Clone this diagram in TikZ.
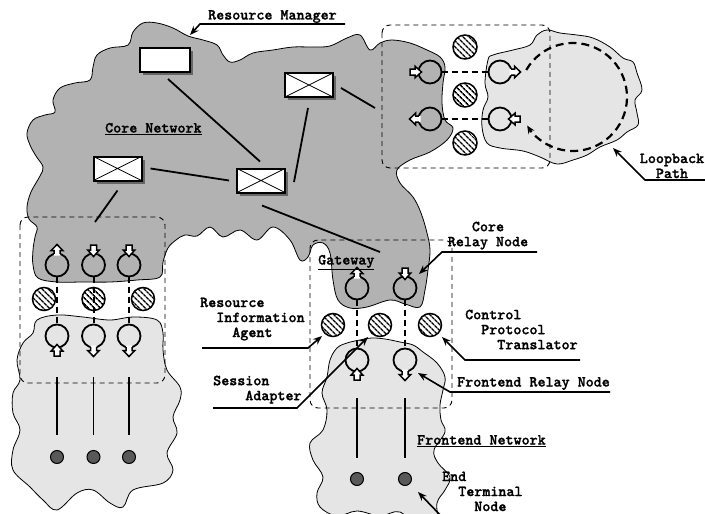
\documentclass[tikz,border=0pt]{standalone}
\usepackage{fontspec}
\usetikzlibrary{arrows.meta,patterns.meta,shadows,calc}
\newfontfamily\lblfont{lmmonolt10-bold.otf}[FakeBold=1.3]

% relay node whose arrow points away from the circle
\newcommand\relayout[3]{%
  \coordinate (#1) at #2;
  \begin{scope}[shift={(#1)}, rotate=#3]
    \draw[line width=1.8pt] (0,0) circle[radius=11.5];
    \fill[white] (9.5,3) -- (14.5,3) -- (14.5,5.8) -- (20.5,0) -- (14.5,-5.8) -- (14.5,-3) -- (9.5,-3) -- cycle;
    \draw[line width=1.5pt, line join=miter] (11.1,3) -- (14.5,3) -- (14.5,5.8) -- (20.5,0) -- (14.5,-5.8) -- (14.5,-3) -- (11.1,-3);
  \end{scope}}
% relay node whose arrow points into the circle
\newcommand\relayin[3]{%
  \coordinate (#1) at #2;
  \begin{scope}[shift={(#1)}, rotate=#3]
    \draw[line width=1.8pt] (0,0) circle[radius=11.5];
    \draw[line width=1.5pt, fill=white, line join=miter] (8.5,0) -- (15,5.8) -- (15,3) -- (20,3) -- (20,-3) -- (15,-3) -- (15,-5.8) -- cycle;
  \end{scope}}

\begin{document}
\begin{tikzpicture}[x=1pt,y=-1pt,
  cloudline/.style={line width=0.8pt},
  corefill/.style={fill=black!30},
  edgefill/.style={fill=black!10},
  conn/.style={line width=1.8pt},
  grpbox/.style={line width=0.9pt, dash pattern=on 5pt off 4pt, rounded corners=8pt},
  link/.style={line width=2pt, dash pattern=on 6pt off 4pt},
  loopdash/.style={line width=2.2pt, dash pattern=on 8pt off 5pt},
  leader/.style={line width=1.6pt, -{Stealth[length=9pt,width=7pt]}},
  hatched/.style={circle, draw, line width=1.5pt, minimum size=24pt, inner sep=0pt,
    preaction={fill=white}, pattern={Lines[angle=-45,distance=4pt,line width=1.6pt]}},
  terminal/.style={circle, draw, line width=1pt, minimum size=13pt, inner sep=0pt, fill=black!65},
  rmbox/.style={draw, line width=2pt, fill=white, minimum width=48pt, minimum height=24pt, inner sep=0pt,
    drop shadow={shadow xshift=3pt, shadow yshift=-3pt, fill=black!60, opacity=1}},
  xbox/.style={rmbox, path picture={\draw[line width=0.8pt]
    (path picture bounding box.north west) -- (path picture bounding box.south east)
    (path picture bounding box.north east) -- (path picture bounding box.south west);}},
  lbl/.style={font=\lblfont\fontsize{15.3}{15}\selectfont, inner sep=0pt},
]
\useasboundingbox (0,0) rectangle (705,514);
\clip (0,0) rectangle (705,514);

% ---------- core network cloud ----------
\draw[cloudline, corefill] plot[smooth cycle, tension=0.6] coordinates {
 (143,23) (157,23) (173,28) (188,36) (203,40) (217,45) (223,55) (230,62) (240,60) (253,53)
 (273,50) (293,47) (313,47) (330,46) (347,38) (360,35) (370,50) (380,43) (392,40) (410,43)
 (427,50) (440,57) (445,67) (443,83) (442,103) (445,120) (453,128) (447,140) (430,152)
 (410,160) (397,170) (400,183) (413,197) (421,213) (427,233) (430,250) (428,270) (425,290)
 (420,307) (405,304) (390,300) (367,307) (350,308) (338,300) (333,280) (330,253) (323,243)
 (313,245) (308,257) (300,260) (290,240) (273,227) (257,240) (240,230) (223,237) (210,227)
 (197,236) (185,235) (176,240) (168,248) (163,262) (160,277) (137,280) (110,282) (83,282)
 (57,282) (38,278) (33,265) (33,250) (35,237) (37,227) (29,219) (27,207) (31,192) (40,176)
 (43,167) (36,156) (30,145) (27,133) (33,120) (45,115) (55,112) (53,100) (60,88) (75,83)
 (90,80) (93,67) (97,55) (110,48) (128,45) (133,32)};

% ---------- loopback cloud ----------
\draw[cloudline, edgefill] plot[smooth cycle, tension=0.6] coordinates {
 (547,30) (560,33) (577,35) (593,38) (610,47) (623,58) (633,62) (637,73) (642,90) (635,100)
 (637,113) (638,125) (627,132) (617,140) (600,147) (587,155) (573,160) (557,164) (540,157)
 (523,151) (500,148) (487,143) (482,127) (483,110) (488,97) (485,83) (488,60) (493,55)
 (513,50) (530,45) (537,35)};

% ---------- left frontend cloud ----------
\draw[cloudline, edgefill] plot[smooth cycle, tension=0.6] coordinates {
 (37,320) (57,315) (83,317) (110,320) (133,317) (157,320) (163,333) (163,350) (167,370)
 (180,387) (180,400) (173,417) (177,433) (167,453) (173,470) (163,483) (133,490) (123,507)
 (110,503) (93,490) (77,493) (57,510) (43,500) (30,487) (13,470) (13,450) (20,430) (13,413)
 (13,393) (20,380) (17,360) (23,343) (33,333)};

% ---------- gateway frontend cloud ----------
\draw[cloudline, edgefill] plot[smooth cycle, tension=0.6] coordinates {
 (347,343) (360,340) (372,338) (385,339) (400,342) (413,345) (423,352) (437,363) (445,377)
 (443,390) (440,405) (441,420) (445,432) (434,450) (438,463) (450,477) (445,490) (437,503)
 (437,525) (420,530) (400,512) (380,516) (357,511) (337,516) (320,507) (317,493) (323,477)
 (313,460) (310,443) (323,430) (327,410) (322,393) (327,377) (330,360) (337,348)};

% ---------- dashed groups ----------
\draw[grpbox] (382,25) rectangle (550,168);
\draw[grpbox] (20,217) rectangle (165,383);
\draw[grpbox] (310,240) rectangle (452,408);

% ---------- resource manager boxes ----------
\node[rmbox] (b1) at (165,60) [minimum width=50pt] {};
\node[xbox] (b2) at (309,85) {};
\node[xbox] (b3) at (117.5,168.5) {};
\node[xbox] (b4) at (261,180.5) {};

\coordinate (toloop) at (375,108);
\coordinate (toleft) at (95,222);
\coordinate (togate) at (380,252);
\draw[conn] ($(b1.south)+(3,6)$) -- ($(b4.north)+(-1,-6)$);
\draw[conn] ($(b2.south)+(-1,10)$) -- ($(b4.east)+(8,1.5)$);
\draw[conn] ($(b3.east)+(8,0)$) -- ($(b4.west)+(-7,0)$);
\draw[conn] ($(b2.east)+(7,3)$) -- (toloop);
\draw[conn] ($(b3.south)+(0,9)$) -- (toleft);
\draw[conn] ($(b4.south)+(1,12)$) -- (togate);

% ---------- hatched translators ----------
\node[hatched] (h1) at (465,47) {};
\node[hatched] (h2) at (465,95) {};
\node[hatched] (h3) at (465,143) {};
\node[hatched, minimum size=23pt] (h4) at (44,299) {};
\node[hatched, minimum size=23pt] (h5) at (93.5,299) {};
\node[hatched, minimum size=23pt] (h6) at (143,299) {};
\node[hatched, minimum size=23pt] (h7) at (333,325) {};
\node[hatched, minimum size=23pt] (h8) at (380,325) {};
\node[hatched, minimum size=23pt] (h9) at (430,325) {};

% ---------- relay nodes ----------
\relayout{cr1}{(57,265)}{90}
\relayin{cr2}{(93.5,265)}{90}
\relayin{cr3}{(129,265)}{90}
\relayin{fr1}{(57,336)}{-90}
\relayout{fr2}{(93.5,336)}{-90}
\relayout{fr3}{(129,336)}{-90}

\relayin{lp1}{(430,72)}{180}
\relayout{lp2}{(430,119)}{180}
\relayout{lp3}{(500,72)}{0}
\relayin{lp4}{(500,119)}{0}

\relayout{gc1}{(357,288)}{90}
\relayin{gc2}{(405,288)}{90}
\relayin{gf1}{(357,360)}{-90}
\relayout{gf2}{(405,360)}{-90}

\foreach \a/\b in {cr1/fr1, cr2/fr2, cr3/fr3, lp1/lp3, lp2/lp4, gc1/gf1, gc2/gf2}
  \draw[link, shorten <=11.5pt, shorten >=11.5pt] (\a) -- (\b);

% loopback path
\coordinate (loopc) at (573,97);
\draw[loopdash, -{Stealth[length=8pt,width=7pt]}] (loopc) ++(210:54) arc[start angle=210, end angle=508, radius=54];

% ---------- end terminals ----------
\node[terminal] (t1) at (57,457) {};
\node[terminal] (t2) at (93.5,457) {};
\node[terminal] (t3) at (129,457) {};
\node[terminal] (t4) at (357,479) {};
\node[terminal] (t5) at (405,479) {};
\draw[conn, shorten <=41pt, shorten >=15.5pt] (fr1) -- (t1);
\draw[conn, shorten <=41pt, shorten >=15.5pt] (fr2) -- (t2);
\draw[conn, shorten <=41pt, shorten >=15.5pt] (fr3) -- (t3);
\draw[conn, shorten <=38pt, shorten >=14.5pt] (gf1) -- (t4);
\draw[conn, shorten <=38pt, shorten >=14.5pt] (gf2) -- (t5);

% ---------- labels ----------
\node[lbl, anchor=base west] (lrm) at (208,19.5) {Resource Manager};
\node[lbl, anchor=base west] (lcore) at (105,132.5) {\underline{Core Network}};
\node[lbl, anchor=base west] (lgw) at (318,264.5) {\underline{Gateway}};
\node[lbl, anchor=base west] (lfen) at (417,444.5) {\underline{Frontend Network}};
\node[lbl, anchor=base west] (lfrn) at (457,386.5) {Frontend Relay Node};
\node[lbl, anchor=north, align=center] (lcrn) at (488,221.5) {Core\\Relay Node};
\node[lbl, anchor=north west, align=left] (lria) at (200,297.5) {Resource\\\phantom{xx}Information\\\phantom{xxxx}Agent};
\node[lbl, anchor=north west, align=left] (lsa) at (213,375.5) {Session\\\phantom{xxxx}Adapter};
\node[lbl, anchor=north west, align=left] (lcpt) at (465,309.5) {Control\\\phantom{xx}Protocol\\\phantom{xxxx}Translator};
\node[lbl, anchor=north west, align=left] (letn) at (442,471.5) {End\\\phantom{xx}Terminal\\\phantom{xxxx}Node};
\node[lbl, anchor=north, align=center] (llp) at (672,153.5) {Loopback\\Path};

% ---------- leaders ----------
\draw[leader] (345,24) -- (200,24) -- (190,35);
\draw[leader] (537,252) -- (442,252) -- (419,274);
\draw[leader] (202,348) -- (308,348) -- (322,336);
\draw[leader] (213,408) -- (297,408) -- (368,337);
\draw[leader] (580,360) -- (465,360) -- (442,337);
\draw[leader] (610,392) -- (450,392) -- (418,373);
\draw[leader] (445,520) -- (418,492);
\draw[leader] (705,180) -- (645,180) -- (613,148);
\end{tikzpicture}
\end{document}
